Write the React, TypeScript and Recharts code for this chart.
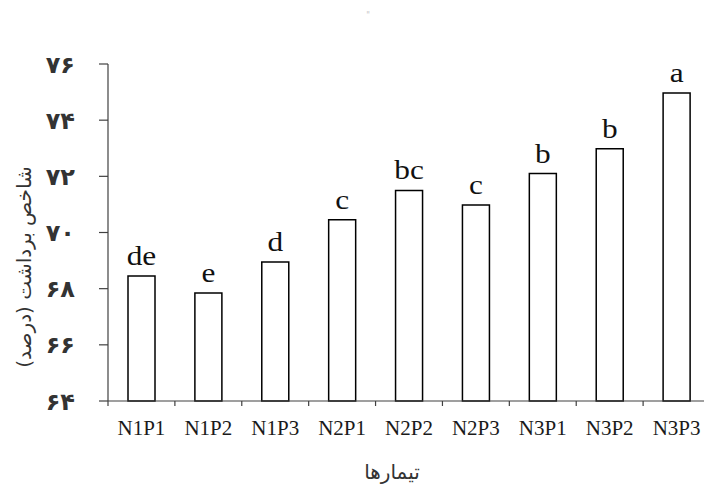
import React from "react";
import { BarChart, Bar, XAxis, YAxis, LabelList } from "recharts";

const categories = ["N1P1", "N1P2", "N1P3", "N2P1", "N2P2", "N2P3", "N3P1", "N3P2", "N3P3"];
const values = [68.45, 67.85, 68.95, 70.45, 71.5, 70.98, 72.1, 72.98, 74.97];
const letters = ["de", "e", "d", "c", "bc", "c", "b", "b", "a"];
const yTicks = [64, 66, 68, 70, 72, 74, 76];
const yTitle = "شاخص برداشت (درصد)";
const xTitle = "تیمارها";

const data = categories.map((c, i) => ({ name: c, value: values[i], letter: letters[i] }));

const CHART_W = 715;
const CHART_H = 488;
const Y_AXIS_W = 108;
const MARGIN = { top: 64, right: 5, bottom: 0, left: 0 };
const X_AXIS_H = 87;
const PLOT_W = CHART_W - MARGIN.left - MARGIN.right - Y_AXIS_W;
const BAND = PLOT_W / categories.length;

const toPersian = (n: number) =>
  String(n).replace(/[0-9]/g, (d) => "۰۱۲۳۴۵۶۷۸۹"[Number(d)]);

const XTick = (props: any) => {
  const { x, y, payload } = props;
  const bx = x - BAND / 2;
  return (
    <g>
      <line x1={bx} x2={bx} y1={y} y2={y + 5} stroke="#404040" strokeWidth={1.2} />
      <text
        x={x}
        y={y + 34}
        textAnchor="middle"
        fontFamily="'Liberation Serif', serif"
        fontSize={21}
        fill="#1a1a1a"
      >
        {payload.value}
      </text>
    </g>
  );
};

const LetterLabel = (props: any) => {
  const { x, y, width, value } = props;
  const cx = Number(x) + Number(width) / 2;
  return (
    <text
      transform={`translate(${cx},${Number(y) - 11}) scale(1.12,1)`}
      textAnchor="middle"
      fontFamily="'Liberation Serif', serif"
      fontSize={28}
      fill="#111"
    >
      {value}
    </text>
  );
};

const Titles = () => (
  <g>
    <text
      x={24}
      y={267}
      transform="rotate(-90 24 267)"
      textAnchor="middle"
      dominantBaseline="central"
      fontFamily="'DejaVu Sans', sans-serif"
      fontSize={20}
      fill="#333"
    >
      {yTitle}
    </text>
    <text
      x={392}
      y={479}
      textAnchor="middle"
      fontFamily="'DejaVu Sans', sans-serif"
      fontSize={20}
      fill="#333"
    >
      {xTitle}
    </text>
    <text x={368} y={18} textAnchor="middle" fontSize={8} fill="#c4c4c4" fontFamily="'DejaVu Sans', sans-serif">
      {'"'}
    </text>
  </g>
);

export default function App() {
  return (
    <div
      style={{
        position: "absolute",
        left: 0,
        top: 0,
        width: 704,
        height: 488,
        overflow: "hidden",
        background: "#fff",
      }}
    >
      <BarChart width={CHART_W} height={CHART_H} data={data} margin={MARGIN}>
        <XAxis
          dataKey="name"
          height={X_AXIS_H}
          tickLine={false}
          tickSize={0}
          tickMargin={0}
          axisLine={{ stroke: "#404040", strokeWidth: 1.2 }}
          tick={<XTick />}
          interval={0}
          label={{ content: () => <Titles /> }}
        />
        <YAxis
          width={Y_AXIS_W}
          domain={[64, 76]}
          ticks={yTicks}
          tickFormatter={toPersian}
          tickSize={9}
          tickMargin={24}
          axisLine={{ stroke: "#404040", strokeWidth: 1.2 }}
          tickLine={{ stroke: "#404040", strokeWidth: 1.2 }}
          tick={{ fontFamily: "'DejaVu Sans', sans-serif", fontSize: 24, fontWeight: "bold", fill: "#333" }}
          interval={0}
        />
        <Bar
          dataKey="value"
          fill="#fff"
          stroke="#000"
          strokeWidth={1.5}
          barSize={27}
          isAnimationActive={false}
        >
          <LabelList dataKey="letter" content={<LetterLabel />} />
        </Bar>
      </BarChart>
    </div>
  );
}
